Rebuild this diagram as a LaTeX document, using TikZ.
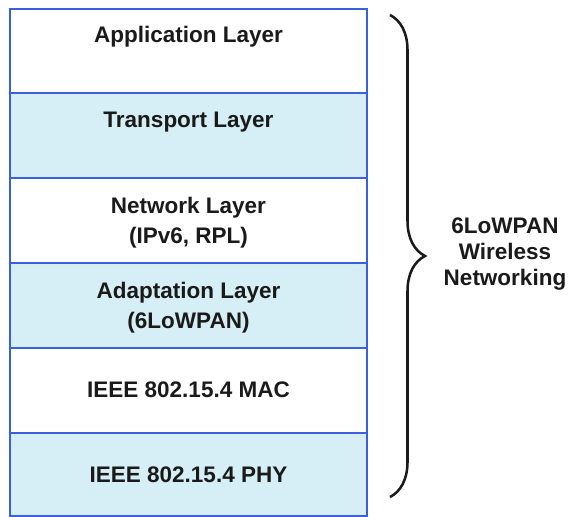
\documentclass[tikz,border=0pt]{standalone}
\usepackage{fontspec}
\setmainfont{Liberation Sans}
\usetikzlibrary{decorations.pathreplacing}
\definecolor{stackblue}{HTML}{3A5FE0}
\definecolor{stackfill}{HTML}{D6EEF5}
\definecolor{stacktext}{HTML}{1A1A1A}

\begin{document}
\begin{tikzpicture}[x=0.025cm, y=-0.025cm,
		layerbox/.style={draw=stackblue, line width=1.3pt},
		layerlabel/.style={text=stacktext, align=center, inner sep=0pt,
			font=\fontsize{16}{21.3}\selectfont\bfseries},
		bracelabel/.style={text=stacktext, align=center, inner sep=0pt,
			font=\fontsize{16}{18.5}\selectfont\bfseries}]
		%%%%% START %%%%%
		\useasboundingbox (0,0) rectangle (568,517);
		
		% protocol stack, top to bottom
		\draw[layerbox, fill=white] (10,9) rectangle (367,93);
		\draw[layerbox, fill=stackfill] (10,93) rectangle (367,178);
		\draw[layerbox, fill=white] (10,178) rectangle (367,263);
		\draw[layerbox, fill=stackfill] (10,263) rectangle (367,348);
		\draw[layerbox, fill=white] (10,348) rectangle (367,433);
		\draw[layerbox, fill=stackfill] (10,433) rectangle (367,516);
		
		\node[layerlabel] (app) at (188.5,37) {Application Layer};
		\node[layerlabel] (transport) at (188.5,122) {Transport Layer};
		\node[layerlabel] (network) at (188.5,223) {Network Layer\\(IPv6, RPL)};
		\node[layerlabel] (adapt) at (188.5,307.5) {Adaptation Layer\\(6LoWPAN)};
		\node[layerlabel] (mac) at (188.5,390) {IEEE 802.15.4 MAC};
		\node[layerlabel] (phy) at (188.5,475) {IEEE 802.15.4 PHY};
		
		% brace over the whole stack
		\coordinate (bracetop) at (390,15);
		\coordinate (bracebot) at (390,497);
		\draw[stacktext, line width=1.8pt, decorate,
			decoration={brace, amplitude=0.875cm}] (bracetop) -- (bracebot);
		
		\node[bracelabel] (stacklabel) at (505,254) {6LoWPAN\\Wireless\\Networking};
		%%%%% END %%%%%
	\end{tikzpicture}
\end{document}
